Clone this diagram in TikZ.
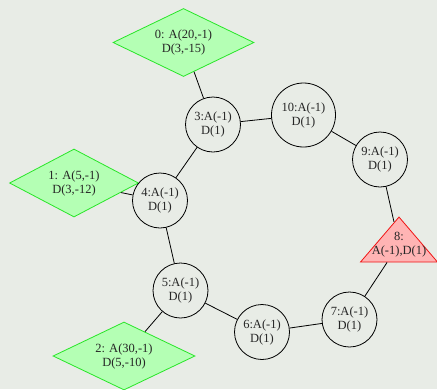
\documentclass[tikz,border=0pt]{standalone}
\usepackage{fontspec}
\setmainfont{Liberation Serif}
\usetikzlibrary{shapes.geometric}
\definecolor{bgGrey}{RGB}{232,236,230}
\definecolor{leafFill}{RGB}{180,255,180}
\definecolor{leafDraw}{RGB}{40,230,40}
\definecolor{rootFill}{RGB}{255,180,180}
\definecolor{rootDraw}{RGB}{240,20,20}
\tikzstyle{lbl} = [align=center, font=\fontsize{12.5}{14}\selectfont, text=black!85]
\tikzstyle{cNode} = [lbl, circle, draw=black, thick, minimum size=55pt, inner sep=0pt]
\tikzstyle{dNode} = [lbl, diamond, draw=leafDraw, fill=leafFill, thick, shape aspect=2, minimum height=68pt, inner sep=0pt]
% empty triangle, its text is set on top of it
\tikzstyle{tNode} = [isosceles triangle, shape border rotate=90, isosceles triangle stretches, draw=rootDraw, fill=rootFill, thick, minimum width=77pt, minimum height=45pt, inner sep=0pt]
\tikzstyle{edge} = [thick, draw=black]

\begin{document}
\begin{tikzpicture}[x=1pt, y=-1pt]
    \fill[bgGrey] (0,0) rectangle (437,389);
    \useasboundingbox (0,0) rectangle (437,389);

    \node (d0) [dNode, minimum width=141pt] at (183.5,42.5) {0: A(20,-1)\\D(3,-15)};
    \node (d1) [dNode, minimum width=129pt] at (74,183) {1: A(5,-1)\\D(3,-12)};
    \node (d2) [dNode, minimum width=142pt] at (124,356) {2: A(30,-1)\\D(5,-10)};
    \node (c3) [cNode] at (213,124.5) {3:A(-1)\\D(1)};
    \node (c4) [cNode] at (160,200.5) {4:A(-1)\\D(1)};
    \node (c5) [cNode] at (180.5,290.5) {5:A(-1)\\D(1)};
    \node (c6) [cNode] at (262,332) {6:A(-1)\\D(1)};
    \node (c7) [cNode] at (349.5,319.5) {7:A(-1)\\D(1)};
    \node (t8) [tNode, anchor=apex] at (399,216) {};
    \node (t8txt) [lbl] at ([yshift=-29pt]t8.apex) {8:\\A(-1),D(1)};
    \node (c9) [cNode] at (380,159.5) {9:A(-1)\\D(1)};
    \node (c10) [cNode, minimum size=64pt] at (303.5,115) {10:A(-1)\\D(1)};

    \draw [edge] (d0) -- (c3);
    \draw [edge] (c3) -- (c10);
    \draw [edge] (c10) -- (c9);
    \draw [edge] (c9) -- (t8);
    \draw [edge] (t8) -- (c7);
    \draw [edge] (c7) -- (c6);
    \draw [edge] (c6) -- (c5);
    \draw [edge] (c5) -- (d2);
    \draw [edge] (c5) -- (c4);
    \draw [edge] (c4) -- (d1);
    \draw [edge] (c4) -- (c3);
\end{tikzpicture}
\end{document}
